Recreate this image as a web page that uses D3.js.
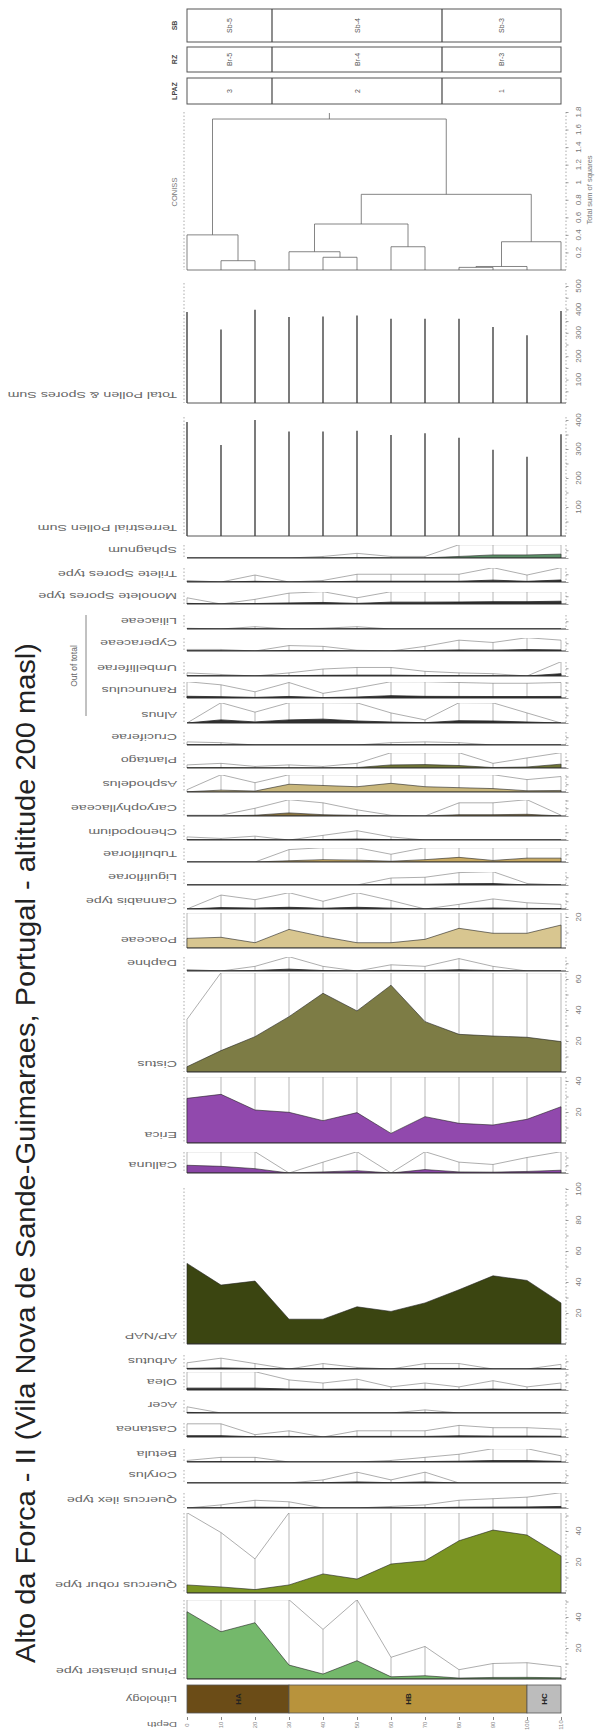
<!DOCTYPE html>
<html>
<head>
<meta charset="utf-8">
<script src="https://cdn.jsdelivr.net/npm/d3@7"></script>
<style>
  body { margin: 0; background: #fff; }
  svg text { font-family: "Liberation Sans", Arial, sans-serif; }
</style>
</head>
<body>
<svg id="chart" width="597" height="1733"></svg>
<script>
// ---- data (samples ordered from core top, left, to bottom, right) ----
const depths = [0, 10, 20, 30, 40, 50, 60, 70, 80, 90, 100, 110];

const sphagnum        = [0, 0, 0, 0, 0.1, 0.3, 0.1, 0.1, 1, 2, 2, 2.5];
const trilete         = [0.1, 0, 0.45, 0, 0.1, 0.5, 0.5, 0.5, 0.5, 1.2, 0.45, 1.3];
const monolete        = [0.4, 0, 0.3, 0.7, 1.0, 0.4, 1.2, 1.2, 1.3, 1.5, 1.5, 1.8];
const liliaceae       = [0.05, 0, 0.15, 0, 0.05, 0.15, 0, 0, 0, 0, 0, 0];
const cyperaceae      = [0.1, 0.1, 0, 0.35, 0.3, 0.05, 0, 0.3, 0.7, 0.55, 0.9, 0.7];
const umbelliferae    = [0.2, 0.1, 0, 0.2, 0.45, 0.55, 0.55, 0.3, 0.2, 0.15, 0, 1.5];
const ranunculus      = [1.1, 0.85, 0.4, 1.0, 0.3, 0.65, 1.5, 1.05, 1.0, 0.95, 0.95, 1.0];
const alnus           = [0, 2, 0.7, 2, 2.5, 1.3, 0.65, 0.2, 1.5, 1.3, 0.65, 0];
const cruciferae      = [0.2, 0.15, 0, 0, 0, 0, 0.15, 0.2, 0.15, 0, 0, 0];
const plantago        = [0.2, 0.3, 0.1, 0.2, 0.1, 0.3, 2, 2.2, 1.6, 0.3, 0.65, 2.5];
const asphodelus      = [0.15, 1.2, 0.6, 5, 4.2, 3.4, 5.6, 3.4, 2.8, 2.2, 0.8, 1.0];
const caryophyllaceae = [0.05, 0.05, 0.5, 2, 0.85, 0.4, 0.05, 0, 0.85, 0.85, 1.1, 0.05];
const chenopodium     = [0.2, 0.1, 0.25, 0, 0.3, 0.6, 0.2, 0, 0, 0, 0, 0];
const tubuliflorae    = [0, 0, 0, 0.8, 1.5, 1.2, 0.5, 1.5, 3, 1, 2.5, 2.5];
const liguliflorae    = [0, 0, 0, 0, 0, 0, 0.45, 0.5, 0.8, 0.9, 0.1, 0];
const cannabis        = [0, 0.9, 0.6, 1.1, 0.5, 1.1, 0.55, 0, 0.3, 0.65, 0.4, 0.3];
const poaceae         = [6.2, 6.9, 3.4, 12, 7.3, 3.4, 3.4, 5.6, 12.7, 9.5, 9.5, 14.8];
const daphne          = [0.1, 0, 0.3, 1.2, 0.3, 0, 0.4, 0.3, 0.8, 0.3, 0, 0];
const cistus          = [3.4, 13.8, 22.8, 35.7, 50.8, 39.4, 56, 32.5, 24.3, 23.2, 22.4, 19.6];
const erica           = [28.8, 31.4, 21.3, 19.8, 14.4, 19.6, 6.2, 17, 12.7, 11.6, 15.3, 23.4];
const calluna         = [5, 4.3, 2.8, 0, 0.7, 1.5, 0, 2.2, 0.7, 0.55, 1.0, 1.8];
const apnap           = [52, 38, 40.6, 16, 16, 24, 21, 26.5, 35, 44, 41, 26.5];
const arbutus         = [0.4, 0.7, 0.35, 0, 0.35, 0.1, 0, 0.35, 0.35, 0, 0, 0.3];
const olea            = [1.2, 1.2, 1.2, 0.65, 0.45, 0.7, 0.2, 0.45, 0.2, 0.6, 0.2, 0.45];
const acer            = [0.4, 0, 0, 0, 0, 0, 0, 0.2, 0, 0, 0, 0];
const castanea        = [0.85, 0.85, 0.15, 0.4, 0, 0.4, 0.4, 0.4, 0.75, 0.6, 0.6, 0.5];
const betula          = [0.1, 0.3, 0.3, 0, 0, 0, 0.1, 0.3, 0.5, 0.9, 0.9, 0.4];
const corylus         = [0, 0, 0, 0, 0.2, 0.7, 0.2, 0.7, 0, 0, 0, 0];
const quercusIlex     = [0, 0.2, 0.5, 0.4, 0, 0, 0.1, 0.2, 0.5, 0.6, 0.7, 1.0];
const quercusRobur    = [5.2, 3.9, 2.2, 5.2, 12.3, 9, 18.7, 20.8, 33.7, 40.6, 37.4, 23.9];
const pinus           = [43.4, 30.5, 36.3, 9, 3.2, 11.8, 1.4, 2.1, 0.6, 1.0, 1.05, 0.8];

const terrestrialSum  = [393, 314, 400, 360, 360, 363, 348, 354, 339, 297, 273, 351];
const totalSum        = [389, 314, 399, 367, 370, 374, 360, 360, 360, 325, 289, 393];

// CONISS merges: [child a, child b, total sum of squares]; leaves 0..11, new nodes from 12
const conissMerges = [
  [8, 9, 0.03], [12, 10, 0.04], [1, 2, 0.106], [4, 5, 0.145], [3, 15, 0.208],
  [6, 7, 0.265], [13, 11, 0.322], [0, 14, 0.40], [16, 17, 0.524], [20, 18, 0.862],
  [19, 21, 1.72]
];

const lithology = [
  { name: "HA", from: 0, to: 30, color: "#6b4c17" },
  { name: "HB", from: 30, to: 100, color: "#b8933c" },
  { name: "HC", from: 100, to: 110, color: "#bcbcbc" }
];
const zoneBreaks = [0, 25, 75, 110];
const zoneRows = [
  { label: "SB", names: ["Sb-5", "Sb-4", "Sb-3"] },
  { label: "RZ", names: ["Br-5", "Br-4", "Br-3"] },
  { label: "LPAZ", names: ["3", "2", "1"] }
];

// ---- layout ----
const svg = d3.select("#chart");
const x = d3.scaleLinear().domain([0, 110]).range([187, 561]);
const pxPct = 1.55;
const axisX = 566, labelX = 177;

// panels: data, baseline y, top y, fill colour, labelled ticks
const panels = [
  { name: "Sphagnum", v: sphagnum, base: 558, top: 545, fill: "#5b8f67" },
  { name: "Trilete Spores type", v: trilete, base: 582, top: 568 },
  { name: "Monolete Spores type", v: monolete, base: 604, top: 592 },
  { name: "Liliaceae", v: liliaceae, base: 629, top: 615 },
  { name: "Cyperaceae", v: cyperaceae, base: 651, top: 638 },
  { name: "Umbelliferae", v: umbelliferae, base: 676, top: 662 },
  { name: "Ranunculus", v: ranunculus, base: 698, top: 682 },
  { name: "Alnus", v: alnus, base: 723, top: 703 },
  { name: "Cruciferae", v: cruciferae, base: 745, top: 732 },
  { name: "Plantago", v: plantago, base: 768, top: 753, fill: "#6f7536" },
  { name: "Asphodelus", v: asphodelus, base: 792, top: 775, fill: "#c9b77c" },
  { name: "Caryophyllaceae", v: caryophyllaceae, base: 816, top: 800, fill: "#8a7440" },
  { name: "Chenopodium", v: chenopodium, base: 840, top: 825 },
  { name: "Tubuliflorae", v: tubuliflorae, base: 862, top: 848, fill: "#c8aa62" },
  { name: "Liguliflorae", v: liguliflorae, base: 885, top: 872 },
  { name: "Cannabis type", v: cannabis, base: 909, top: 893 },
  { name: "Poaceae", v: poaceae, base: 948, top: 913, fill: "#d8c690", ticks: [20] },
  { name: "Daphne", v: daphne, base: 971, top: 957 },
  { name: "Cistus", v: cistus, base: 1072, top: 973, fill: "#7d7c45", ticks: [20, 40, 60] },
  { name: "Erica", v: erica, base: 1143, top: 1077, fill: "#9149ad", ticks: [20, 40] },
  { name: "Calluna", v: calluna, base: 1173, top: 1152, fill: "#8a45a6" },
  { name: "AP/NAP", v: apnap, base: 1344, top: 1188, fill: "#3b4511", ticks: [20, 40, 60, 80, 100], noExag: true },
  { name: "Arbutus", v: arbutus, base: 1369, top: 1355 },
  { name: "Olea", v: olea, base: 1390, top: 1372 },
  { name: "Acer", v: acer, base: 1413, top: 1400 },
  { name: "Castanea", v: castanea, base: 1437, top: 1423 },
  { name: "Betula", v: betula, base: 1462, top: 1449 },
  { name: "Corylus", v: corylus, base: 1483, top: 1470 },
  { name: "Quercus ilex type", v: quercusIlex, base: 1508, top: 1493 },
  { name: "Quercus robur type", v: quercusRobur, base: 1593, top: 1513, fill: "#7b9522", ticks: [20, 40] },
  { name: "Pinus pinaster type", v: pinus, base: 1679, top: 1600, fill: "#74b86b", ticks: [20, 40] }
];

// upside-down label, stretched along its length like the source figure
function flipLabel(px, py, txt, size) {
  svg.append("text")
    .attr("transform", `translate(${px},${py}) rotate(180) scale(1.5,1)`)
    .attr("text-anchor", "start")
    .attr("dominant-baseline", "central")
    .attr("font-size", size || 9.5)
    .attr("fill", "#666")
    .text(txt);
}

function upLabel(px, py, txt, size, opts) {
  const t = svg.append("text")
    .attr("transform", `translate(${px},${py}) rotate(-90)`)
    .attr("text-anchor", (opts && opts.anchor) || "middle")
    .attr("dominant-baseline", "central")
    .attr("font-size", size)
    .attr("fill", (opts && opts.color) || "#666")
    .text(txt);
  return t;
}

function valueAxis(yScale, top, base, labels, step, fmt) {
  // dotted axes on both sides with small ticks
  [184, axisX].forEach(ax => {
    svg.append("line").attr("x1", ax).attr("x2", ax).attr("y1", top).attr("y2", base)
      .attr("stroke", "#888").attr("stroke-width", 0.7).attr("stroke-dasharray", "1.5,2");
  });
  const g = svg.append("g").attr("transform", `translate(${axisX},0)`);
  const axis = d3.axisRight(yScale).tickSize(2.5).tickFormat("");
  if (step) axis.tickValues(d3.range(step, yScale.domain()[1] + 1e-6, step));
  else axis.ticks(2);
  g.call(axis);
  g.select(".domain").remove();
  g.selectAll("line").attr("stroke", "#777").attr("stroke-width", 0.7);
  (labels || []).forEach(v => {
    upLabel(axisX + 12, yScale(v), fmt ? fmt(v) : v, 8, { color: "#777" });
  });
}

// ---- taxa panels ----
panels.forEach((p, i) => {
  const maxV = (p.base - p.top) / pxPct;
  const y = d3.scaleLinear().domain([0, maxV]).range([p.base, p.top]);
  const clipId = "clip" + i;
  svg.append("clipPath").attr("id", clipId).append("rect")
    .attr("x", x(0) - 1).attr("width", x(110) - x(0) + 2)
    .attr("y", p.top).attr("height", p.base - p.top);
  const g = svg.append("g").attr("clip-path", `url(#${clipId})`);
  const rows = depths.map((d, j) => ({ d, v: p.v[j] }));

  if (!p.noExag) {
    // exaggeration x10: bars and curve
    g.selectAll(".bar").data(rows).join("line")
      .attr("x1", r => x(r.d)).attr("x2", r => x(r.d))
      .attr("y1", p.base).attr("y2", r => y(Math.min(r.v * 10, maxV)))
      .attr("stroke", "#888").attr("stroke-width", 0.6);
    g.append("path").datum(rows)
      .attr("d", d3.line().x(r => x(r.d)).y(r => y(Math.min(r.v * 10, maxV + 0.2))))
      .attr("fill", "none").attr("stroke", "#777").attr("stroke-width", 0.6);
  }
  g.append("path").datum(rows)
    .attr("d", d3.area().x(r => x(r.d)).y0(p.base).y1(r => y(r.v)))
    .attr("fill", p.fill || "#2f2f2f")
    .attr("stroke", "#222").attr("stroke-width", p.fill ? 0.6 : 0.8);

  svg.append("line").attr("x1", x(0)).attr("x2", axisX).attr("y1", p.base).attr("y2", p.base)
    .attr("stroke", "#333").attr("stroke-width", 1.1);
  valueAxis(y, p.top, p.base, p.ticks, p.ticks ? 10 : null);
  flipLabel(labelX, p.base - 8, p.name);
});

// "Out of total" bracket
svg.append("line").attr("x1", 86).attr("x2", 86).attr("y1", 615).attr("y2", 716)
  .attr("stroke", "#666").attr("stroke-width", 0.8);
upLabel(74, 666, "Out of total", 8.5, { color: "#666" });

// ---- pollen sums ----
const sums = [
  { name: "Terrestrial Pollen Sum", v: terrestrialSum, base: 536, top: 420, max: 400, ticks: [100, 200, 300, 400] },
  { name: "Total Pollen & Spores Sum", v: totalSum, base: 403, top: 286, max: 500, ticks: [100, 200, 300, 400, 500] }
];
sums.forEach(s => {
  const y = d3.scaleLinear().domain([0, s.max]).range([s.base, s.top]);
  svg.selectAll(null).data(depths.map((d, j) => ({ d, v: s.v[j] }))).join("line")
    .attr("x1", r => x(r.d)).attr("x2", r => x(r.d))
    .attr("y1", s.base).attr("y2", r => y(r.v))
    .attr("stroke", "#222").attr("stroke-width", 1.2);
  svg.append("line").attr("x1", x(0)).attr("x2", axisX).attr("y1", s.base).attr("y2", s.base)
    .attr("stroke", "#444").attr("stroke-width", 0.9);
  valueAxis(y, s.top - 3, s.base, s.ticks, 50);
  flipLabel(labelX, s.base - 8, s.name);
});

// ---- CONISS dendrogram ----
const yC = d3.scaleLinear().domain([0, 1.8]).range([270, 112]);
const nodes = depths.map(d => ({ x: x(d), h: 0 }));
conissMerges.forEach(([a, b, h]) => {
  const A = nodes[a], B = nodes[b];
  svg.append("path")
    .attr("d", `M${A.x},${yC(A.h)}V${yC(h)}H${B.x}V${yC(B.h)}`)
    .attr("fill", "none").attr("stroke", "#666").attr("stroke-width", 0.8);
  nodes.push({ x: (A.x + B.x) / 2, h });
});
const root = nodes[nodes.length - 1];
svg.append("line").attr("x1", root.x).attr("x2", root.x).attr("y1", yC(root.h)).attr("y2", yC(root.h) - 6)
  .attr("stroke", "#666").attr("stroke-width", 0.8);
svg.append("line").attr("x1", x(0)).attr("x2", axisX).attr("y1", 270).attr("y2", 270)
  .attr("stroke", "#555").attr("stroke-width", 0.8);
valueAxis(yC, 112, 270, [0.2, 0.4, 0.6, 0.8, 1, 1.2, 1.4, 1.6, 1.8], 0.2, d3.format("~g"));
upLabel(174, 192, "CONISS", 7.5, { color: "#777" });
upLabel(589, 190, "Total sum of squares", 7.5, { color: "#777" });

// ---- zone rows ----
const rowY = [[9, 42], [47, 72], [78, 104]];
zoneRows.forEach((row, ri) => {
  const [y0, y1] = rowY[ri];
  svg.append("rect").attr("x", x(0)).attr("y", y0).attr("width", x(110) - x(0)).attr("height", y1 - y0)
    .attr("fill", "none").attr("stroke", "#555").attr("stroke-width", 1);
  zoneBreaks.slice(1, -1).forEach(b => {
    svg.append("line").attr("x1", x(b)).attr("x2", x(b)).attr("y1", y0).attr("y2", y1)
      .attr("stroke", "#444").attr("stroke-width", 1.2);
  });
  row.names.forEach((nm, k) => {
    const cx = (x(zoneBreaks[k]) + x(zoneBreaks[k + 1])) / 2;
    upLabel(cx, (y0 + y1) / 2, nm, 7, { color: "#555" });
  });
  upLabel(174, (y0 + y1) / 2, row.label, 7, { color: "#444" }).attr("font-weight", "bold");
});

// ---- lithology ----
lithology.forEach(l => {
  svg.append("rect").attr("x", x(l.from)).attr("y", 1685).attr("width", x(l.to) - x(l.from)).attr("height", 28)
    .attr("fill", l.color).attr("stroke", "#555").attr("stroke-width", 0.8);
  upLabel((x(l.from) + x(l.to)) / 2, 1699, l.name, 8, { color: "#222" }).attr("font-weight", "bold");
});
flipLabel(labelX, 1699, "Lithology", 8.5);

// ---- depth axis ----
const gD = svg.append("g").attr("transform", "translate(0,1717)");
gD.call(d3.axisBottom(x).tickValues(depths).tickSize(3).tickFormat(""));
gD.select(".domain").remove();
gD.selectAll("line").attr("stroke", "#888");
depths.forEach(d => upLabel(x(d), 1725, d, 6, { color: "#888" }));
flipLabel(labelX, 1725, "Depth", 7.5);

// ---- title ----
upLabel(26, 1663, "Alto da Forca - II (Vila Nova de Sande-Guimaraes, Portugal - altitude 200 masl)", 27,
  { anchor: "start", color: "#222" })
  .attr("textLength", 1020).attr("lengthAdjust", "spacingAndGlyphs");
</script>
</body>
</html>
